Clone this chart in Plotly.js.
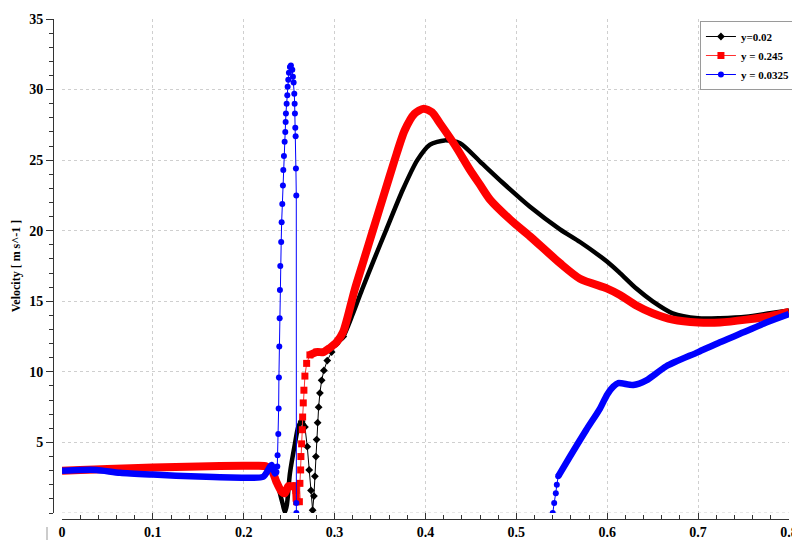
<!DOCTYPE html>
<html>
<head>
<meta charset="utf-8">
<script src="https://cdn.plot.ly/plotly-3.0.1.min.js"></script>
<style>html,body{margin:0;padding:0;background:#fff}#chart{width:792px;height:540px}</style>
</head>
<body>
<div id="chart"></div>
<script>
// ---- data ----
const seriesNames = ["y=0.02", "y = 0.245", "y = 0.0325"];

const xBlack = [0, 0.02, 0.05, 0.1, 0.15, 0.2, 0.215, 0.225, 0.2325, 0.238, 0.2398, 0.243, 0.2453, 0.2475, 0.2508, 0.2563, 0.26, 0.2637, 0.2673, 0.2699, 0.272, 0.274, 0.2758, 0.2772, 0.2783, 0.2794, 0.2802, 0.2813, 0.2824, 0.2838, 0.2857, 0.2882, 0.2919, 0.2967, 0.3022, 0.3095, 0.32, 0.33, 0.343, 0.357, 0.375, 0.391, 0.405, 0.421, 0.438, 0.46, 0.485, 0.515, 0.548, 0.57, 0.6, 0.614, 0.632, 0.65, 0.672, 0.7, 0.724, 0.753, 0.779, 0.8];
const vBlack = [3.0, 3.05, 3.1, 3.2, 3.28, 3.32, 3.3, 3.2, 2.8, 1.9, 1.4, 0.6, 0.05, 0.6, 2.8, 4.9, 6.1, 6.5, 6.1, 4.7, 3.05, 1.6, 0.2, 1.2, 2.6, 4.0, 5.2, 6.4, 7.5, 8.5, 9.4, 10.1, 10.8, 11.4, 12.0, 12.5, 14.1, 15.8, 17.9, 20.1, 22.9, 25.0, 26.1, 26.4, 26.2, 24.9, 23.4, 21.7, 20.1, 19.2, 17.8, 17.0, 15.9, 15.0, 14.15, 13.8, 13.8, 13.9, 14.15, 14.35];

const xRed = [0, 0.02, 0.05, 0.1, 0.15, 0.2, 0.215, 0.225, 0.2307, 0.236, 0.2417, 0.2453, 0.249, 0.2527, 0.2563, 0.2575, 0.2582, 0.2612, 0.2618, 0.2626, 0.2629, 0.2637, 0.2644, 0.2648, 0.2655, 0.2662, 0.2673, 0.2692, 0.2728, 0.2802, 0.2875, 0.2948, 0.3022, 0.3095, 0.322, 0.332, 0.342, 0.354, 0.366, 0.377, 0.388, 0.398, 0.407, 0.416, 0.432, 0.449, 0.46, 0.471, 0.493, 0.515, 0.548, 0.57, 0.6, 0.614, 0.632, 0.65, 0.672, 0.7, 0.724, 0.753, 0.779, 0.8];
const vRed = [3.0, 3.05, 3.12, 3.22, 3.3, 3.35, 3.35, 3.3, 3.05, 2.2, 1.5, 1.4, 1.9, 1.9, 1.9, 1.6, 0.8, 0.8, 2.1, 3.05, 4.0, 4.9, 5.9, 6.8, 7.8, 8.7, 9.7, 10.6, 11.2, 11.4, 11.4, 11.7, 12.1, 12.85, 15.8, 17.9, 20.0, 22.5, 25.0, 27.1, 28.3, 28.65, 28.4, 27.6, 26.1, 24.3, 23.25, 22.2, 20.8, 19.6, 17.7, 16.6, 15.9, 15.45, 14.7, 14.15, 13.7, 13.5, 13.5, 13.7, 13.95, 14.25];

const xBlue = [0, 0.02, 0.038, 0.064, 0.1, 0.15, 0.2, 0.2215, 0.2307, 0.2343, 0.236, 0.2369, 0.2372, 0.238, 0.2384, 0.2387, 0.2391, 0.2395, 0.2398, 0.2402, 0.2412, 0.2417, 0.2424, 0.2431, 0.2435, 0.2442, 0.245, 0.2457, 0.2461, 0.2464, 0.2472, 0.2479, 0.2483, 0.249, 0.2497, 0.2508, 0.2519, 0.2534, 0.2541, 0.2549, 0.2556, 0.256, 0.2563, 0.2567, 0.2571, 0.2574, 0.2578, 0.25785, 0.2579, 0.4, 0.54, 0.5416, 0.5434, 0.5445, 0.546, 0.559, 0.577, 0.592, 0.6, 0.6066, 0.612, 0.6286, 0.643, 0.665, 0.7, 0.724, 0.75, 0.775, 0.8];
const vBlue = [3.0, 3.05, 3.05, 2.85, 2.72, 2.58, 2.5, 2.57, 3.4, 2.8, 2.9, 3.3, 4.1, 5.6, 7.4, 9.6, 11.8, 13.8, 15.8, 17.5, 19.2, 20.6, 21.9, 23.2, 24.3, 25.3, 26.3, 27.0, 27.7, 28.3, 29.0, 29.6, 30.2, 30.7, 31.2, 31.6, 31.7, 31.4, 30.9, 30.5, 29.7, 29.0, 28.3, 27.3, 26.7, 24.4, 22.5, 0.7, 0.0, null, 0.0, 0.7, 1.4, 2.0, 2.6, 4.0, 5.9, 7.4, 8.4, 8.95, 9.2, 9.07, 9.4, 10.4, 11.4, 12.1, 12.8, 13.5, 14.1];

const xTickVals = [0, 0.1, 0.2, 0.3, 0.4, 0.5, 0.6, 0.7, 0.8];
const xTickText = ["0", "0.1", "0.2", "0.3", "0.4", "0.5", "0.6", "0.7", "0.8"];
const yTickVals = [5, 10, 15, 20, 25, 30, 35];
const yTickText = ["5", "10", "15", "20", "25", "30", "35"];

// ---- styling helpers ----
function keep(xs, vs, test) { return vs.map((v, i) => (test(xs[i]) ? v : null)); }
function outside(lo, hi) { return x => !(x > lo && x < hi); }
function inside(ranges) { return x => ranges.some(r => x >= r[0] && x <= r[1]); }

const serif = "Liberation Serif, Times New Roman, serif";

const traces = [
  { x: xBlack, y: keep(xBlack, vBlack, outside(0.2673, 0.3022)), mode: "lines", showlegend: false, hoverinfo: "skip",
    line: { color: "#000000", width: 4.5, shape: "spline", smoothing: 0.7 } },
  { x: xBlack, y: keep(xBlack, vBlack, inside([[0.2637, 0.3095]])), mode: "lines+markers", name: seriesNames[0],
    line: { color: "#000000", width: 1 }, marker: { symbol: "diamond", size: 6, color: "#000000" } },
  { x: xRed, y: keep(xRed, vRed, outside(0.2582, 0.2728)), mode: "lines", showlegend: false, hoverinfo: "skip",
    line: { color: "#ff0000", width: 8, shape: "spline", smoothing: 0.7 } },
  { x: xRed, y: keep(xRed, vRed, inside([[0.2563, 0.2802]])), mode: "lines+markers", name: seriesNames[1],
    line: { color: "#ff3030", width: 1 }, marker: { symbol: "square", size: 7, color: "#ff0000" } },
  { x: xBlue, y: keep(xBlue, vBlue, outside(0.236, 0.546)), mode: "lines", showlegend: false, hoverinfo: "skip",
    line: { color: "#0000ff", width: 6.5, shape: "spline", smoothing: 0.7 } },
  { x: xBlue, y: keep(xBlue, vBlue, inside([[0.236, 0.2579], [0.54, 0.546]])), mode: "lines+markers", name: seriesNames[2],
    line: { color: "#0000ff", width: 1 }, marker: { symbol: "circle", size: 6, color: "#0000ff" } }
];

const layout = {
  width: 792, height: 540,
  margin: { l: 53, r: 3, t: 19, b: 21, pad: 0, autoexpand: false },
  paper_bgcolor: "#ffffff", plot_bgcolor: "#ffffff",
  showlegend: true,
  legend: {
    x: 0.879, y: 0.996, xanchor: "left", yanchor: "top",
    bgcolor: "#ffffff", bordercolor: "#9a9a9a", borderwidth: 1,
    font: { family: serif, size: 11, color: "#000000", weight: "bold" },
    tracegroupgap: 0
  },
  xaxis: {
    domain: [0.01223, 1], anchor: "free", position: 0,
    range: [0, 0.8], autorange: false,
    tickmode: "array", tickvals: xTickVals, ticktext: xTickText,
    ticks: "inside", ticklen: 6, tickwidth: 1, tickcolor: "#333333",
    minor: { tickmode: "linear", tick0: 0, dtick: 0.02, ticks: "inside", ticklen: 4, tickwidth: 1, tickcolor: "#333333", showgrid: false },
    showline: true, linecolor: "#333333", linewidth: 1,
    showgrid: true, gridcolor: "#cfcfcf", griddash: "dot", gridwidth: 1,
    zeroline: false, automargin: false, ticklabeloverflow: "allow",
    tickfont: { family: serif, size: 14, color: "#000000", weight: "bold" }
  },
  yaxis: {
    domain: [0.012, 1], anchor: "free", position: 0,
    range: [0, 35], autorange: false,
    tickmode: "array", tickvals: yTickVals, ticktext: yTickText,
    ticks: "outside", ticklen: 7, tickwidth: 1, tickcolor: "#333333",
    minor: { tickmode: "linear", tick0: 0, dtick: 1, ticks: "outside", ticklen: 4, tickwidth: 1, tickcolor: "#333333", showgrid: false },
    showline: true, linecolor: "#333333", linewidth: 1,
    showgrid: true, gridcolor: "#cfcfcf", griddash: "dot", gridwidth: 1,
    zeroline: false, automargin: false,
    tickfont: { family: serif, size: 14, color: "#000000", weight: "bold" },
    title: { text: "Velocity [ m s^-1 ]", standoff: 5, font: { family: serif, size: 12, color: "#000000", weight: "bold" } }
  },
  shapes: [
    { type: "line", xref: "paper", yref: "y", x0: 0.01223, x1: 1, y0: 0, y1: 0,
      line: { color: "#cfcfcf", width: 1, dash: "dot" }, layer: "below" },
    { type: "line", xref: "paper", yref: "paper", x0: -0.00815, x1: -0.00815, y0: -0.016, y1: -0.045,
      line: { color: "#999999", width: 1 } }
  ]
};

Plotly.newPlot("chart", traces, layout, { displayModeBar: false, staticPlot: true });
</script>
</body>
</html>
